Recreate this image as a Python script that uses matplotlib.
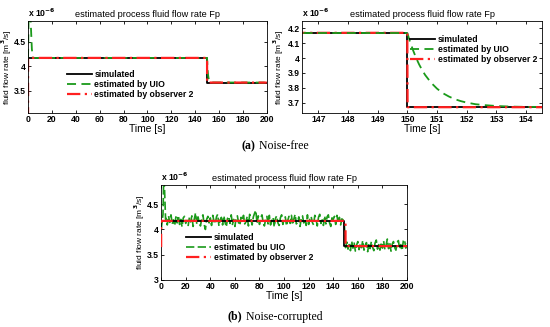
import numpy as np
import matplotlib
matplotlib.use('Agg')
import matplotlib.pyplot as plt

# values are in units of 1e-6 m^3/s
# ---- (a) noise-free, full run
t_sim = [0, 150, 150, 200]
f_sim = [4.17, 4.17, 3.67, 3.67]
t_obs = [0, 0.01, 150, 150.01, 200]
f_obs = [2.9, 4.17, 4.17, 3.67, 3.67]
t_uio_start = [0, 0.8, 1.6, 2.4, 3.2, 4.0]
f_uio_start = [4.17, 5.6, 5.3, 4.8, 4.35, 4.17]
# UIO transient after the step at t = 150 s
t_uio_step = [150, 150.1, 150.2, 150.3, 150.4, 150.5, 150.6, 150.8, 151.0, 151.2,
              151.4, 151.6, 151.8, 152.0, 152.3, 152.6, 153.0, 153.5, 154.0, 200]
f_uio_step = [4.17, 4.105, 4.05, 4.0, 3.957, 3.92, 3.887, 3.835, 3.795, 3.764,
              3.742, 3.724, 3.711, 3.701, 3.69, 3.684, 3.678, 3.674, 3.672, 3.67]

# ---- (b) noise-corrupted
t_sim_b = [0, 149, 149, 200]
f_sim_b = [4.17, 4.17, 3.67, 3.67]
t_obs_b = [0, 0.01, 150, 150.01, 200]
f_obs_b = [3.65, 4.17, 4.17, 3.67, 3.67]
t_uio_b0 = [0, 1.5, 2.2, 3.0, 3.6]
f_uio_b0 = [4.0, 4.3, 5.2, 4.6, 4.2]
level_hi, level_lo = 4.17, 3.67
# noise offsets in 1e-8 (one sample per second), t = 4..149 and t = 150..200
noise_hi = [5, -8, 10, -3, 12, -6, 2, -10, 8, -4,
            11, -7, 3, -12, 6, 9, -5, 1, -9, 7,
            -2, 10, -11, 4, 16, -6, 8, -3, -10, 5,
            12, -7, -17, 3, 9, -4, 6, -9, 11, -1,
            -6, 8, 13, -10, 2, 7, -8, 10, -3, -12,
            5, 9, -5, 12, -7, 3, -11, 6, 10, -4,
            -9, 7, 1, 11, -6, -2, 9, -10, 13, 4,
            -8, 8, 15, 21, -5, 10, -7, 6, 12, -3,
            -10, 4, 9, -6, 11, -8, 2, 7, -12, 5,
            10, -4, -9, 6, 12, -7, 3, 8, -10, 1,
            9, -5, 11, -8, 4, 13, -6, -2, 8, -11,
            6, 10, -4, 3, -9, 12, -7, 5, 9, -3,
            -8, 11, 4, -10, 7, 13, -5, 2, -9, 10,
            -6, 8, 12, -4, -11, 6, 3, 9, -7, 11,
            -5, 7, -8, 4, 2, -6]
noise_lo = [-3, 8, -6, 3, -9, 10, -4, 6, -10, 2, 9,
            -7, 5, -3, 11, -8, 1, 7, -11, 4, -5,
            9, -2, -9, 6, 12, -6, 3, -8, 8, -4,
            10, -7, 2, 14, -5, 6, -10, 4, 9, -3,
            -8, 7, 11, -6, 3, -9, 10, 13, -4, 6]

t_hi = np.arange(4, 4 + len(noise_hi))
t_lo = np.arange(150, 150 + len(noise_lo))
t_uio_b = np.concatenate([t_uio_b0, t_hi, t_lo])
f_uio_b = np.concatenate([f_uio_b0, level_hi + np.array(noise_hi) / 100.0,
                          level_lo + np.array(noise_lo) / 100.0])

plt.rcParams['font.family'] = 'Liberation Sans'
plt.rcParams['font.weight'] = 'bold'
plt.rcParams['mathtext.default'] = 'bf'
fs = 6.2
GREEN = '#1a9a1a'
RED = '#ff2020'
LEG = dict(frameon=False, fontsize=fs, handlelength=2.9, labelspacing=0.12,
           borderpad=0.1, handletextpad=0.3)

fig = plt.figure(figsize=(5.5, 3.27), dpi=100)
ax1 = fig.add_axes([0.051, 0.654, 0.434, 0.282])
ax2 = fig.add_axes([0.549, 0.654, 0.437, 0.282])
ax3 = fig.add_axes([0.293, 0.144, 0.447, 0.290])

def style(ax, ylab_x):
    ax.tick_params(direction='in', top=True, right=True, labelsize=fs, length=2.5, width=0.6, pad=1.5)
    for s in ax.spines.values():
        s.set_linewidth(0.6)
    ax.set_xlabel('Time [s]', fontsize=fs + 1.2, labelpad=0)
    ax.set_ylabel('fluid flow rate [m$^3$/s]', fontsize=fs - 0.2)
    ax.yaxis.set_label_coords(ylab_x, 0.5)
    ax.set_title('estimated process fluid flow rate Fp', fontsize=fs + 0.4, pad=3)
    ax.text(0.0, 1.02, r'x 10$^{-6}$', transform=ax.transAxes, fontsize=fs, va='bottom')

# (a) full run
ax1.plot(t_sim, f_sim, color='black', lw=1.3, label='simulated')
ax1.plot(np.concatenate([t_uio_start, t_uio_step]), np.concatenate([f_uio_start, f_uio_step]),
         color=GREEN, lw=1.3, ls=(0, (5, 3)), label='estimated by UIO')
ax1.plot(t_obs, f_obs, color=RED, lw=1.6, ls=(0, (6, 2, 1, 2)), label='estimated by observer 2')
ax1.set_xlim(0, 200)
ax1.set_ylim(3.05, 4.92)
ax1.set_xticks(np.arange(0, 201, 20))
ax1.set_yticks([3.5, 4, 4.5])
ax1.set_yticklabels(['3.5', '4', '4.5'])
style(ax1, -0.058)
ax1.legend(loc='lower left', bbox_to_anchor=(0.14, 0.1), **LEG)

# (a) zoom around the step
ax2.plot(t_sim, f_sim, color='black', lw=1.3, label='simulated')
ax2.plot(t_uio_step, f_uio_step, color=GREEN, lw=1.3, ls=(0, (5, 3)), label='estimated by UIO')
ax2.plot(t_obs, f_obs, color=RED, lw=1.6, ls=(0, (6, 2, 1, 2)), label='estimated by observer 2')
ax2.plot([146, 150], [4.17, 4.17], color=GREEN, lw=1.3, ls=(0, (5, 3)))
ax2.set_xlim(146.45, 154.55)
ax2.set_ylim(3.63, 4.25)
ax2.set_xticks(np.arange(147, 155))
ax2.set_yticks([3.7, 3.8, 3.9, 4.0, 4.1, 4.2])
ax2.set_yticklabels(['3.7', '3.8', '3.9', '4', '4.1', '4.2'])
style(ax2, -0.067)
ax2.legend(loc='upper right', bbox_to_anchor=(1.0, 0.9), **LEG)

# (b) noisy run
ax3.plot(t_uio_b, f_uio_b, color=GREEN, lw=1.2, ls=(0, (5, 2)), label='estimated bu UIO', zorder=2)
ax3.plot(t_sim_b, f_sim_b, color='black', lw=1.3, label='simulated', zorder=3)
ax3.plot(t_obs_b, f_obs_b, color=RED, lw=1.6, ls=(0, (6, 2, 1, 2)), label='estimated by observer 2', zorder=4)
ax3.set_xlim(0, 200)
ax3.set_ylim(3.0, 4.88)
ax3.set_xticks(np.arange(0, 201, 20))
ax3.set_yticks([3, 3.5, 4, 4.5])
ax3.set_yticklabels(['3', '3.5', '4', '4.5'])
style(ax3, -0.057)
h, l = ax3.get_legend_handles_labels()
ax3.legend([h[1], h[0], h[2]], [l[1], l[0], l[2]], loc='lower left',
           bbox_to_anchor=(0.08, 0.13), **LEG)

# captions: bold label followed by regular serif text, centred together
fig.canvas.draw()
r = fig.canvas.get_renderer()
for y, tag, txt in [(0.553, '(a)', ' Noise-free'), (0.032, '(b)', ' Noise-corrupted')]:
    a = fig.text(0, y, tag, va='center', fontsize=8.5, family='Liberation Serif', weight='bold')
    b = fig.text(0, y, txt, va='center', fontsize=8.5, family='Liberation Serif', weight='normal')
    wa = a.get_window_extent(r).width / fig.bbox.width
    wb = b.get_window_extent(r).width / fig.bbox.width
    x0 = 0.5 - (wa + wb) / 2
    a.set_x(x0)
    b.set_x(x0 + wa)

fig.savefig('out.png', dpi=100)
